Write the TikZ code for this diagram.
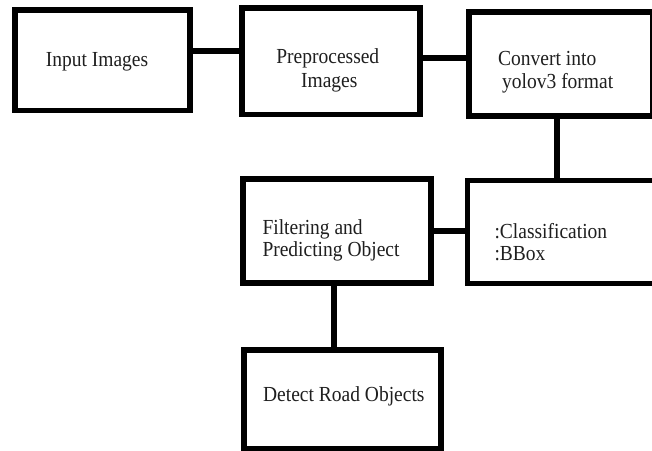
\documentclass[tikz,border=0pt]{standalone}
\usepackage{fontspec}
\setmainfont{Liberation Serif}
\usepackage{graphicx}
% slightly tall lettering used in the boxes
\newcommand{\tallline}[1]{\scalebox{1}[1.1]{#1}}
\begin{document}
\begin{tikzpicture}[x=1pt,y=-1pt,
  stepbox/.style={draw=black, line width=5.5pt, inner sep=0pt},
  link/.style={draw=black, line width=6pt},
  lbl/.style={inner sep=0pt, font=\fontsize{19.5}{23}\selectfont, text=black!88}]
\fill[white] (0,0) rectangle (652,450);
\clip (0,0) rectangle (652,450);

% process boxes
\node[stepbox, minimum width=175pt,   minimum height=100.5pt] (b1) at (102.5,60.25) {};
\node[stepbox, minimum width=178pt,   minimum height=106.5pt] (b2) at (331,61.25) {};
\node[stepbox, minimum width=184pt,   minimum height=104pt]   (b3) at (561,64) {};
\node[stepbox, minimum width=192.5pt, minimum height=103.2pt] (b4) at (563.75,232.1) {};
\node[stepbox, minimum width=188pt,   minimum height=104pt]   (b5) at (337,231) {};
\node[stepbox, minimum width=197pt,   minimum height=99pt]    (b6) at (342.5,399.5) {};

% box texts
\node[lbl, anchor=base] (t1) at (97,66.7) {\tallline{Input Images}};
\node[lbl, anchor=base] (t2a) at (327.8,63) {\tallline{Preprocessed}};
\node[lbl, anchor=base] (t2b) at (329.3,87.3) {\tallline{Images}};
\node[lbl, anchor=base west] (t3a) at (498,65.5) {\tallline{Convert into}};
\node[lbl, anchor=base west] (t3b) at (502,88.3) {\tallline{yolov3 format}};
\node[lbl, anchor=base west] (t4a) at (494.3,238.3) {\tallline{:Classification}};
\node[lbl, anchor=base west] (t4b) at (494.3,260.7) {\tallline{:BBox}};
\node[lbl, anchor=base west] (t5a) at (262.3,234) {\tallline{Filtering and}};
\node[lbl, anchor=base west] (t5b) at (262.3,256.7) {\tallline{Predicting Object}};
\node[lbl, anchor=base] (t6) at (343.8,401.7) {\tallline{Detect Road Objects}};

% connectors
\draw[link] ([yshift=9.5pt]b1.east) -- ([yshift=9.5pt]b1.east -| b2.west);
\draw[link, line width=6.5pt] ([yshift=3.25pt]b2.east) -- ([yshift=3.25pt]b2.east -| b3.west);
\draw[link] ([xshift=-4pt]b3.south) -- ([xshift=-4pt]b3.south |- b4.north);
\draw[link] (b5.east) -- (b5.east -| b4.west);
\draw[link] ([xshift=-3pt]b5.south) -- ([xshift=-3pt]b5.south |- b6.north);
\end{tikzpicture}
\end{document}
